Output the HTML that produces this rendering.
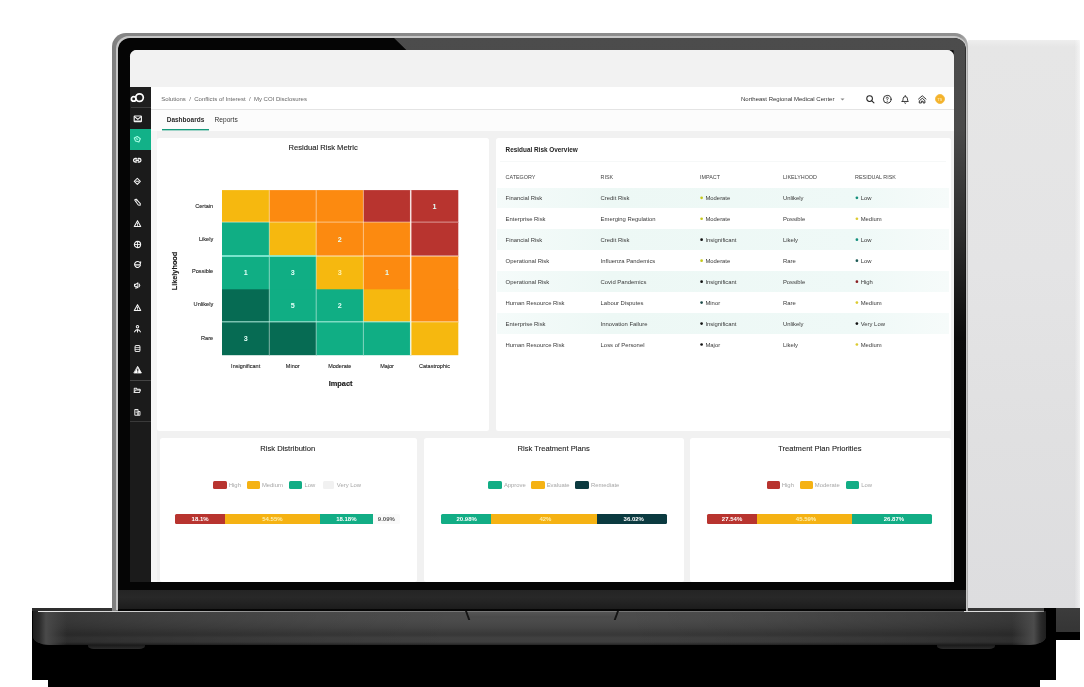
<!DOCTYPE html>
<html>
<head>
<meta charset="utf-8">
<title>Risk Dashboard</title>
<style>
*{box-sizing:border-box;margin:0;padding:0}
html,body{width:1084px;height:687px;overflow:hidden;background:#fff}
body{position:relative;font-family:"Liberation Sans",sans-serif;color:#222}
.a{position:absolute}
.t{position:absolute;white-space:nowrap;line-height:1}
/* ---------- laptop frame ---------- */
#grayrect{left:967.6px;top:39.8px;width:112.6px;height:568.2px;background:linear-gradient(90deg,rgba(255,255,255,0) 0,rgba(255,255,255,0) 95%,rgba(255,255,255,.55) 100%),linear-gradient(#eeeeee 0,#e6e6e6 1.2%,#e4e4e5 40%,#e0e0e1 70%,#dddddf 100%)}
#grayfoot{left:1040px;top:608px;width:40px;height:24px;background:linear-gradient(#3c3c3c,#353535)}
#blackfoot{left:1040px;top:632px;width:40px;height:8px;background:#000}
#topstrip{left:32px;top:608px;width:1012px;height:3px;background:linear-gradient(90deg,#2c2c2c,#333 8%,#333 92%,#404040)}
#blk1{left:32px;top:608px;width:1024px;height:72px;background:#000}
#blk2{left:48px;top:640px;width:992px;height:47px;background:#000}
#lid{left:112.3px;top:32.6px;width:855.4px;height:578px;border-radius:14px 13px 0 0;background:linear-gradient(90deg,#7e7e7e,#858585 1%,#8c8c8c 50%,#909090 99%,#b0b0b0)}
#lid2{left:116.2px;top:36.2px;width:851px;height:574px;border-radius:13px 13px 0 0;background:#c6c6c6}
#bezel{left:117.6px;top:37.6px;width:848px;height:572.4px;border-radius:12px 12px 0 0;background:#050505;overflow:hidden}
#bezelR{left:0;top:0;width:848px;height:572.4px;background:linear-gradient(#4c4c4c 0,#4a4a4a 90px,#2c2c2c 200px,#0c0c0c 300px,#050505 400px);clip-path:polygon(276px 0,848px 0,848px 573px,836px 573px,836px 12.6px,289px 12.6px)}
#chin{left:117.6px;top:590px;width:848px;height:20.5px;background:linear-gradient(#242424,#282828 35%,#1d1d1d 88%,#050505 93%,#050505)}
#base{left:33px;top:611px;width:1013px;height:34px;border-radius:0 0 16px 16px/0 0 9px 9px;background:linear-gradient(#8c8c8c 0,#4d4d4d 1.4px,#4b4b4b 10px,#454545 16px,#3a3a3a 22px,#383838 24px,#414141 27px,#3f3f3f 31px,#2e2e2e 33px,#222 34px)}
#baseShade{left:33px;top:611px;width:1013px;height:34px;border-radius:0 0 16px 16px/0 0 9px 9px;background:linear-gradient(90deg,rgba(0,0,0,.3),rgba(0,0,0,.18) 12%,rgba(0,0,0,.06) 28%,rgba(0,0,0,0) 42%,rgba(0,0,0,0) 58%,rgba(0,0,0,.06) 72%,rgba(0,0,0,.18) 88%,rgba(0,0,0,.3))}
#baseL{left:33px;top:611px;width:34px;height:34px;border-radius:0 0 0 16px/0 0 0 9px;background:linear-gradient(90deg,#1e1e1e,#2a2a2a 18%,#4a4a4a 38%,rgba(64,64,64,0))}
#baseR{left:1012px;top:611px;width:34px;height:34px;border-radius:0 0 16px 0/0 0 9px 0;background:linear-gradient(270deg,#1e1e1e,#2a2a2a 15%,#4c4c4c 36%,rgba(64,64,64,0))}
#notch{left:465px;top:611.5px;width:153px;height:8px;background:linear-gradient(#555,#4b4b4b 60%,rgba(72,72,72,0));clip-path:polygon(0 0,100% 0,calc(100% - 4px) 100%,4px 100%)}
#tickL{left:464.6px;top:611px;width:1.6px;height:8.5px;background:#141414;transform:skewX(20deg);transform-origin:0 0}
#tickR{left:617px;top:611px;width:1.6px;height:8.5px;background:#141414;transform:skewX(-20deg);transform-origin:0 0}
#hl{left:38px;top:610.6px;width:430px;height:1.4px;background:linear-gradient(90deg,#ececec,#d0d0d0 22%,#8c8c8c 50%,rgba(125,125,125,0))}
#hr{left:964px;top:610.6px;width:80px;height:1.4px;background:linear-gradient(90deg,#e0e0e0,#d4d4d4 85%,#888)}
#screen{left:130px;top:50px;width:823.8px;height:532px;border-radius:6.5px 7px 0 0;background:#f1f1f1;overflow:hidden}
#footL{left:88px;top:645px;width:57px;height:3.6px;border-radius:0 0 6px 6px/0 0 3px 3px;background:linear-gradient(#1a1a1a,#2c2c2c)}
#footR{left:937px;top:645px;width:58px;height:3.6px;border-radius:0 0 6px 6px/0 0 3px 3px;background:linear-gradient(#1a1a1a,#2c2c2c)}
</style>
</head>
<body>
<div class="a" id="grayrect"></div>
<div class="a" id="grayfoot"></div>
<div class="a" id="blackfoot"></div>
<div class="a" id="blk1"></div>
<div class="a" id="blk2"></div>
<div class="a" id="topstrip"></div>
<div class="a" id="lid"></div>
<div class="a" id="lid2"></div>
<div class="a" id="bezel"><div class="a" id="bezelR"></div></div>
<div class="a" id="chin"></div>
<div class="a" id="base"></div>
<div class="a" id="baseShade"></div>
<div class="a" id="baseL"></div>
<div class="a" id="baseR"></div>
<div class="a" id="notch"></div>
<div class="a" id="tickL"></div>
<div class="a" id="tickR"></div>
<div class="a" id="footL"></div>
<div class="a" id="footR"></div>
<div class="a" id="hl"></div>
<div class="a" id="hr"></div>
<div class="a" id="screen">
<div class="a" style="left:-130px;top:-50px;width:1084px;height:687px;will-change:transform">
<div class="a" style="left:130.00px;top:50.00px;width:824.00px;height:37.30px;background:#f2f2f2;"></div>
<div class="a" style="left:151.00px;top:87.30px;width:803.00px;height:22.10px;background:#ffffff;"></div>
<div class="a" style="left:151.00px;top:109.20px;width:803.00px;height:0.80px;background:#e4e4e4;"></div>
<div class="a" style="left:151.00px;top:110.00px;width:803.00px;height:20.50px;background:#fcfcfc;"></div>
<div class="a" style="left:151.00px;top:130.50px;width:803.00px;height:451.50px;background:#f1f1f1;"></div>
<div class="a" style="left:130.00px;top:87.30px;width:21.00px;height:494.70px;background:#1b1b1b;"></div>
<div class="a" style="left:130.00px;top:87.30px;width:21.00px;height:20.70px;background:#1f1f1f;"></div>
<div class="a" style="left:131.00px;top:107.00px;width:20.00px;height:0.80px;background:#3d3d3d;"></div>
<div class="a" style="left:130.00px;top:128.70px;width:21.00px;height:21.30px;background:#12b188;"></div>
<div class="a" style="left:130.00px;top:379.70px;width:21.00px;height:0.90px;background:#444;"></div>
<div class="a" style="left:130.00px;top:421.40px;width:21.00px;height:0.80px;background:#3a3a3a;"></div>
<svg class="a" style="left:129px;top:90px" width="17" height="15" viewBox="0 0 17 15" fill="none" stroke="#fff" stroke-width="1.7"><circle cx="4.7" cy="8.9" r="2.3"/><circle cx="10.5" cy="7.6" r="3.8"/></svg>
<svg class="a" style="left:133.00px;top:113.70px" width="9.6" height="9.6" viewBox="0 0 24 24" fill="none" stroke="#f4f4f4" stroke-width="2.9" stroke-linecap="round" stroke-linejoin="round"><rect x="3" y="5" width="18" height="14" rx="1.5"/><path d="M4 6.500l8 7 8-7" /><path d="M5 18h14" stroke-width="4"/></svg>
<svg class="a" style="left:133.40px;top:135.00px" width="8.6" height="8.6" viewBox="0 0 24 24" fill="none" stroke="#a8ffe6" stroke-width="3" stroke-linecap="round" stroke-linejoin="round"><path d="M3.500 8.500l8.500-4.500 8.500 6.500-4 9-9.500-2.500z"/><path d="M9 10.500l4 1.500"/></svg>
<svg class="a" style="left:132.35px;top:155.25px" width="10.5" height="10.5" viewBox="0 0 24 24" fill="none" stroke="#f4f4f4" stroke-width="2.9" stroke-linecap="round" stroke-linejoin="round"><path d="M10 8H7.500a4 4 0 0 0 0 8H10M14 8h2.500a4 4 0 0 1 0 8H14M9 12h6"/></svg>
<svg class="a" style="left:133.20px;top:176.80px" width="8.6" height="8.6" viewBox="0 0 24 24" fill="none" stroke="#f4f4f4" stroke-width="2.9" stroke-linecap="round" stroke-linejoin="round"><path d="M12 3.500l8.500 8.500-8.500 8.500-8.500-8.500z"/><path d="M8.500 12h7"/></svg>
<svg class="a" style="left:133.10px;top:197.90px" width="8.8" height="8.8" viewBox="0 0 24 24" fill="none" stroke="#f4f4f4" stroke-width="2.8" stroke-linecap="round" stroke-linejoin="round"><path d="M4.500 5.500l4-2.500 11.500 12.500-.5 4.500-5-1z"/><path d="M8 9l4-3" stroke-width="2"/></svg>
<svg class="a" style="left:133.00px;top:219.30px" width="9" height="9" viewBox="0 0 24 24" fill="none" stroke="#f4f4f4" stroke-width="2.9" stroke-linecap="round" stroke-linejoin="round"><path d="M12 4.500l8.500 15.500h-17z"/><path d="M12 11v3.500M12 17v.3" stroke-width="2.4"/></svg>
<svg class="a" style="left:133.00px;top:239.70px" width="9" height="9" viewBox="0 0 24 24" fill="none" stroke="#f4f4f4" stroke-width="3" stroke-linecap="round" stroke-linejoin="round"><circle cx="12" cy="12" r="8.300"/><path d="M4 12h16M12 4v16" stroke-width="2.4"/></svg>
<svg class="a" style="left:133.00px;top:260.20px" width="9" height="9" viewBox="0 0 24 24" fill="none" stroke="#f4f4f4" stroke-width="2.9" stroke-linecap="round" stroke-linejoin="round"><path d="M19 7.500a8 8 0 1 0 .8 7"/><path d="M5.500 13h13.500l1.500-8"/></svg>
<svg class="a" style="left:133.00px;top:281.20px" width="9" height="9" viewBox="0 0 24 24" fill="none" stroke="#f4f4f4" stroke-width="2.8" stroke-linecap="round" stroke-linejoin="round"><path d="M4 9v5h3l6 4V5L7 9z"/><path d="M16.500 8c2 2 2 5 0 7M8 15.500v4.500"/></svg>
<svg class="a" style="left:133.00px;top:303.10px" width="9" height="9" viewBox="0 0 24 24" fill="none" stroke="#f4f4f4" stroke-width="2.9" stroke-linecap="round" stroke-linejoin="round"><path d="M12 4.500l8.500 15.500h-17z"/><path d="M12 11v3.500M12 17v.3" stroke-width="2.4"/></svg>
<svg class="a" style="left:133.00px;top:323.50px" width="9" height="9" viewBox="0 0 24 24" fill="none" stroke="#f4f4f4" stroke-width="2.8" stroke-linecap="round" stroke-linejoin="round"><circle cx="12" cy="7.500" r="3.300"/><path d="M4 21c2-4 4.500-6 8-6s6 2 8 6M12 15v6" /></svg>
<svg class="a" style="left:133.00px;top:344.10px" width="9" height="9" viewBox="0 0 24 24" fill="none" stroke="#e2e2e2" stroke-width="2.8" stroke-linecap="round" stroke-linejoin="round"><rect x="5.500" y="4" width="13" height="16" rx="3"/><path d="M6 9.500h12M6 14.500h12" stroke-width="2.2"/></svg>
<svg class="a" style="left:132.70px;top:365.10px" width="9.6" height="9.6" viewBox="0 0 24 24" fill="none" stroke="#fff" stroke-width="2" stroke-linecap="round" stroke-linejoin="round"><path d="M12 4l9 16H3z" fill="#fff"/><path d="M12 10v4.500M12 17.400v.3" stroke="#1b1b1b" stroke-width="2.6"/></svg>
<svg class="a" style="left:133.20px;top:386.30px" width="8.6" height="8.6" viewBox="0 0 24 24" fill="none" stroke="#e6e6e6" stroke-width="2.8" stroke-linecap="round" stroke-linejoin="round"><path d="M3.500 18V6h6l2 3h8v3"/><path d="M3.500 18l3-6.500h14.500l-3 6.500z"/></svg>
<svg class="a" style="left:133.20px;top:407.70px" width="8.6" height="8.6" viewBox="0 0 24 24" fill="none" stroke="#e6e6e6" stroke-width="2.8" stroke-linecap="round" stroke-linejoin="round"><rect x="5" y="4" width="9" height="16" rx="1"/><rect x="14" y="10" width="5.500" height="10" rx="1"/><path d="M8 8.500h3M8 13h3" stroke-width="2"/></svg>
<div class="t" style="left:161.20px;top:96px;font-size:6.0px;font-weight:400;color:#666;">Solutions&nbsp; /&nbsp; Conflicts of Interest&nbsp; /&nbsp; My COI Disclosures</div>
<div class="t" style="left:741.00px;top:96px;font-size:6.0px;font-weight:400;color:#333;">Northeast Regional Medical Center</div>
<svg class="a" style="left:839.5px;top:98px" width="5" height="3.2" viewBox="0 0 10 6"><path d="M1 1l4 4 4-4z" fill="#888"/></svg>
<svg class="a" style="left:864.95px;top:94.05px" width="10.5" height="10.5" viewBox="0 0 24 24" fill="none" stroke="#222" stroke-width="2.3" stroke-linecap="round" stroke-linejoin="round"><circle cx="10.5" cy="10.5" r="6.5"/><path d="M15.5 15.5l5 5"/></svg>
<svg class="a" style="left:882.25px;top:94.05px" width="10.5" height="10.5" viewBox="0 0 24 24" fill="none" stroke="#222" stroke-width="2.1" stroke-linecap="round" stroke-linejoin="round"><circle cx="12" cy="12" r="8.8"/><path d="M9.8 9.5a2.3 2.3 0 1 1 3.2 2.2c-.7.4-1 .8-1 1.8M12 16.8v.2" stroke-width="1.9"/></svg>
<svg class="a" style="left:900.15px;top:94.05px" width="10.5" height="10.5" viewBox="0 0 24 24" fill="none" stroke="#222" stroke-width="2.1" stroke-linecap="round" stroke-linejoin="round"><path d="M5 17h14c-1.5-1.5-2-3-2-6a5 5 0 0 0-10 0c0 3-.5 4.500-2 6z"/><path d="M10.300 20.500a2 2 0 0 0 3.400 0M12 3.500v1.500"/></svg>
<svg class="a" style="left:917.05px;top:94.05px" width="10.5" height="10.5" viewBox="0 0 24 24" fill="none" stroke="#222" stroke-width="2.1" stroke-linecap="round" stroke-linejoin="round"><path d="M3.500 11.500L12 4l8.500 7.500"/><path d="M6 15l6-5.200 6 5.200v5.500h-4v-4h-4v4H6z"/></svg>
<div class="a" style="left:934.6px;top:94.1px;width:10.4px;height:10.4px;border-radius:50%;background:#f4b22a;border:0.8px solid #f6c04d"></div>
<div class="t" style="left:939.80px;top:99px;font-size:3.6px;font-weight:700;color:#fbe3a8;transform:translateX(-50%);">TS</div>
<div class="t" style="left:166.70px;top:117px;font-size:6.5px;font-weight:700;color:#2a2a2a;">Dashboards</div>
<div class="t" style="left:214.60px;top:117px;font-size:6.6px;font-weight:400;color:#333;">Reports</div>
<div class="a" style="left:161.70px;top:129.00px;width:47.60px;height:1.00px;background:#17997b;box-shadow:0 1px 0 rgba(23,153,123,.4);"></div>
<div class="a" style="left:156.90px;top:137.50px;width:332.30px;height:293.90px;background:#ffffff;border-radius:2.5px;"></div>
<div class="a" style="left:495.60px;top:137.60px;width:455.00px;height:293.80px;background:#ffffff;border-radius:2.5px;"></div>
<div class="a" style="left:159.80px;top:437.90px;width:257.60px;height:144.10px;background:#ffffff;border-radius:2.5px;"></div>
<div class="a" style="left:424.00px;top:437.90px;width:259.70px;height:144.10px;background:#ffffff;border-radius:2.5px;"></div>
<div class="a" style="left:689.80px;top:437.90px;width:260.90px;height:144.10px;background:#ffffff;border-radius:2.5px;"></div>
<div class="a" style="left:151.00px;top:130.50px;width:5.90px;height:451.50px;background:#f6f6f6;"></div>
<svg class="a" style="left:0;top:0" width="1084" height="687" viewBox="0 0 1084 687"><rect x="222.0" y="190.1" width="48.00" height="32.70" fill="#f6b80f"/><rect x="269.3" y="190.1" width="47.60" height="32.70" fill="#fc8a10"/><rect x="316.2" y="190.1" width="47.90" height="32.70" fill="#fc8a10"/><rect x="363.4" y="190.1" width="48.00" height="32.70" fill="#b8342f"/><rect x="410.7" y="190.1" width="47.60" height="32.70" fill="#b8342f"/><rect x="222.0" y="222.1" width="48.00" height="34.60" fill="#10ae84"/><rect x="269.3" y="222.1" width="47.60" height="34.60" fill="#f6b80f"/><rect x="316.2" y="222.1" width="47.90" height="34.60" fill="#fc8a10"/><rect x="363.4" y="222.1" width="48.00" height="34.60" fill="#fc8a10"/><rect x="410.7" y="222.1" width="47.60" height="34.60" fill="#b8342f"/><rect x="222.0" y="256.0" width="48.00" height="34.00" fill="#10ae84"/><rect x="269.3" y="256.0" width="47.60" height="34.00" fill="#10ae84"/><rect x="316.2" y="256.0" width="47.90" height="34.00" fill="#f6b80f"/><rect x="363.4" y="256.0" width="48.00" height="34.00" fill="#fc8a10"/><rect x="410.7" y="256.0" width="47.60" height="34.00" fill="#fc8a10"/><rect x="222.0" y="289.3" width="48.00" height="33.20" fill="#066b53"/><rect x="269.3" y="289.3" width="47.60" height="33.20" fill="#10ae84"/><rect x="316.2" y="289.3" width="47.90" height="33.20" fill="#10ae84"/><rect x="363.4" y="289.3" width="48.00" height="33.20" fill="#f6b80f"/><rect x="410.7" y="289.3" width="47.60" height="33.20" fill="#fc8a10"/><rect x="222.0" y="321.8" width="48.00" height="33.40" fill="#066b53"/><rect x="269.3" y="321.8" width="47.60" height="33.40" fill="#066b53"/><rect x="316.2" y="321.8" width="47.90" height="33.40" fill="#10ae84"/><rect x="363.4" y="321.8" width="48.00" height="33.40" fill="#10ae84"/><rect x="410.7" y="321.8" width="47.60" height="33.40" fill="#f6b80f"/><line x1="269.3" y1="190.1" x2="269.3" y2="355.2" stroke="rgba(255,255,255,0.55)" stroke-width="0.9"/><line x1="316.2" y1="190.1" x2="316.2" y2="355.2" stroke="rgba(255,255,255,0.55)" stroke-width="0.9"/><line x1="363.4" y1="190.1" x2="363.4" y2="355.2" stroke="rgba(255,255,255,0.55)" stroke-width="0.9"/><line x1="410.7" y1="190.1" x2="410.7" y2="355.2" stroke="rgba(255,255,255,0.85)" stroke-width="1.5"/><line x1="222.0" y1="222.1" x2="458.3" y2="222.1" stroke="rgba(255,255,255,0.55)" stroke-width="0.9"/><line x1="222.0" y1="256.0" x2="458.3" y2="256.0" stroke="rgba(255,255,255,0.75)" stroke-width="1.2"/><line x1="222.0" y1="256.0" x2="316.2" y2="256.0" stroke="#7fecd4" stroke-width="1.3"/><line x1="222.0" y1="321.8" x2="458.3" y2="321.8" stroke="rgba(255,255,255,0.6)" stroke-width="1.0"/><line x1="222.0" y1="321.8" x2="410.7" y2="321.8" stroke="rgba(150,245,220,0.5)" stroke-width="1.0"/></svg>
<div class="t" style="left:434.50px;top:203px;font-size:7.2px;font-weight:700;color:#e2fff7;transform:translateX(-50%);">1</div>
<div class="t" style="left:339.80px;top:236px;font-size:7.2px;font-weight:700;color:#e2fff7;transform:translateX(-50%);">2</div>
<div class="t" style="left:245.65px;top:269px;font-size:7.2px;font-weight:700;color:#e2fff7;transform:translateX(-50%);">1</div>
<div class="t" style="left:292.75px;top:269px;font-size:7.2px;font-weight:700;color:#e2fff7;transform:translateX(-50%);">3</div>
<div class="t" style="left:339.80px;top:269px;font-size:7.2px;font-weight:700;color:#fff3b0;transform:translateX(-50%);">3</div>
<div class="t" style="left:387.05px;top:269px;font-size:7.2px;font-weight:700;color:#e2fff7;transform:translateX(-50%);">1</div>
<div class="t" style="left:292.75px;top:302px;font-size:7.2px;font-weight:700;color:#e2fff7;transform:translateX(-50%);">5</div>
<div class="t" style="left:339.80px;top:302px;font-size:7.2px;font-weight:700;color:#e2fff7;transform:translateX(-50%);">2</div>
<div class="t" style="left:245.65px;top:335px;font-size:7.2px;font-weight:700;color:#e2fff7;transform:translateX(-50%);">3</div>
<div class="t" style="left:213.20px;top:204px;font-size:5.6px;font-weight:400;color:#222;transform:translateX(-100%);-webkit-text-stroke:0.1px currentColor;">Certain</div>
<div class="t" style="left:213.20px;top:237px;font-size:5.6px;font-weight:400;color:#222;transform:translateX(-100%);-webkit-text-stroke:0.1px currentColor;">Likely</div>
<div class="t" style="left:213.20px;top:269px;font-size:5.6px;font-weight:400;color:#222;transform:translateX(-100%);-webkit-text-stroke:0.1px currentColor;">Possible</div>
<div class="t" style="left:213.20px;top:302px;font-size:5.6px;font-weight:400;color:#222;transform:translateX(-100%);-webkit-text-stroke:0.1px currentColor;">Unlikely</div>
<div class="t" style="left:213.20px;top:336px;font-size:5.6px;font-weight:400;color:#222;transform:translateX(-100%);-webkit-text-stroke:0.1px currentColor;">Rare</div>
<div class="t" style="left:245.65px;top:364px;font-size:5.5px;font-weight:400;color:#222;transform:translateX(-50%);-webkit-text-stroke:0.1px currentColor;">Insignificant</div>
<div class="t" style="left:292.75px;top:364px;font-size:5.5px;font-weight:400;color:#222;transform:translateX(-50%);-webkit-text-stroke:0.1px currentColor;">Minor</div>
<div class="t" style="left:339.80px;top:364px;font-size:5.5px;font-weight:400;color:#222;transform:translateX(-50%);-webkit-text-stroke:0.1px currentColor;">Moderate</div>
<div class="t" style="left:387.05px;top:364px;font-size:5.5px;font-weight:400;color:#222;transform:translateX(-50%);-webkit-text-stroke:0.1px currentColor;">Major</div>
<div class="t" style="left:434.50px;top:364px;font-size:5.5px;font-weight:400;color:#222;transform:translateX(-50%);-webkit-text-stroke:0.1px currentColor;">Catastrophic</div>
<div class="t" style="left:340.60px;top:380px;font-size:7.4px;font-weight:700;color:#1a1a1a;transform:translateX(-50%);-webkit-text-stroke:0.15px #1a1a1a;">Impact</div>
<div class="t" style="left:175.3px;top:270.5px;font-size:7.3px;font-weight:700;color:#1a1a1a;-webkit-text-stroke:0.15px #1a1a1a;transform:translate(-50%,-50%) rotate(-90deg)">Likelyhood</div>
<div class="t" style="left:323.20px;top:144px;font-size:7.6px;font-weight:400;color:#222;transform:translateX(-50%);-webkit-text-stroke:0.12px #222;">Residual Risk Metric</div>
<div class="t" style="left:505.60px;top:147px;font-size:6.4px;font-weight:700;color:#222;">Residual Risk Overview</div>
<div class="a" style="left:500.00px;top:161.40px;width:446.00px;height:0.60px;background:#f6f8f8;"></div>
<div class="t" style="left:505.60px;top:175px;font-size:5.4px;font-weight:400;color:#444;">CATEGORY</div>
<div class="t" style="left:600.60px;top:175px;font-size:5.4px;font-weight:400;color:#444;">RISK</div>
<div class="t" style="left:700.00px;top:175px;font-size:5.4px;font-weight:400;color:#444;">IMPACT</div>
<div class="t" style="left:782.90px;top:175px;font-size:5.4px;font-weight:400;color:#444;">LIKELYHOOD</div>
<div class="t" style="left:855.10px;top:175px;font-size:5.4px;font-weight:400;color:#444;">RESIDUAL RISK</div>
<div class="a" style="left:497.00px;top:187.50px;width:452.00px;height:20.40px;background:linear-gradient(90deg,#f5fbfa,#edf8f5 25%,#eff9f7 80%,#f6fbfa);"></div>
<div class="t" style="left:505.60px;top:196px;font-size:5.9px;font-weight:400;color:#3a3a3a;">Financial Risk</div>
<div class="t" style="left:600.60px;top:196px;font-size:5.9px;font-weight:400;color:#3a3a3a;">Credit Risk</div>
<div class="t" style="left:705.40px;top:196px;font-size:5.9px;font-weight:400;color:#3a3a3a;">Moderate</div>
<div class="t" style="left:782.90px;top:196px;font-size:5.9px;font-weight:400;color:#3a3a3a;">Unlikely</div>
<div class="t" style="left:860.70px;top:196px;font-size:5.9px;font-weight:400;color:#3a3a3a;">Low</div>
<div class="t" style="left:505.60px;top:217px;font-size:5.9px;font-weight:400;color:#3a3a3a;">Enterprise Risk</div>
<div class="t" style="left:600.60px;top:217px;font-size:5.9px;font-weight:400;color:#3a3a3a;">Emerging Regulation</div>
<div class="t" style="left:705.40px;top:217px;font-size:5.9px;font-weight:400;color:#3a3a3a;">Moderate</div>
<div class="t" style="left:782.90px;top:217px;font-size:5.9px;font-weight:400;color:#3a3a3a;">Possible</div>
<div class="t" style="left:860.70px;top:217px;font-size:5.9px;font-weight:400;color:#3a3a3a;">Medium</div>
<div class="a" style="left:497.00px;top:229.42px;width:452.00px;height:20.40px;background:linear-gradient(90deg,#f5fbfa,#edf8f5 25%,#eff9f7 80%,#f6fbfa);"></div>
<div class="t" style="left:505.60px;top:238px;font-size:5.9px;font-weight:400;color:#3a3a3a;">Financial Risk</div>
<div class="t" style="left:600.60px;top:238px;font-size:5.9px;font-weight:400;color:#3a3a3a;">Credit Risk</div>
<div class="t" style="left:705.40px;top:238px;font-size:5.9px;font-weight:400;color:#3a3a3a;">Insignificant</div>
<div class="t" style="left:782.90px;top:238px;font-size:5.9px;font-weight:400;color:#3a3a3a;">Likely</div>
<div class="t" style="left:860.70px;top:238px;font-size:5.9px;font-weight:400;color:#3a3a3a;">Low</div>
<div class="t" style="left:505.60px;top:259px;font-size:5.9px;font-weight:400;color:#3a3a3a;">Operational Risk</div>
<div class="t" style="left:600.60px;top:259px;font-size:5.9px;font-weight:400;color:#3a3a3a;">Influenza Pandemics</div>
<div class="t" style="left:705.40px;top:259px;font-size:5.9px;font-weight:400;color:#3a3a3a;">Moderate</div>
<div class="t" style="left:782.90px;top:259px;font-size:5.9px;font-weight:400;color:#3a3a3a;">Rare</div>
<div class="t" style="left:860.70px;top:259px;font-size:5.9px;font-weight:400;color:#3a3a3a;">Low</div>
<div class="a" style="left:497.00px;top:271.34px;width:452.00px;height:20.40px;background:linear-gradient(90deg,#f5fbfa,#edf8f5 25%,#eff9f7 80%,#f6fbfa);"></div>
<div class="t" style="left:505.60px;top:280px;font-size:5.9px;font-weight:400;color:#3a3a3a;">Operational Risk</div>
<div class="t" style="left:600.60px;top:280px;font-size:5.9px;font-weight:400;color:#3a3a3a;">Covid Pandemics</div>
<div class="t" style="left:705.40px;top:280px;font-size:5.9px;font-weight:400;color:#3a3a3a;">Insignificant</div>
<div class="t" style="left:782.90px;top:280px;font-size:5.9px;font-weight:400;color:#3a3a3a;">Possible</div>
<div class="t" style="left:860.70px;top:280px;font-size:5.9px;font-weight:400;color:#3a3a3a;">High</div>
<div class="t" style="left:505.60px;top:301px;font-size:5.9px;font-weight:400;color:#3a3a3a;">Human Resource Risk</div>
<div class="t" style="left:600.60px;top:301px;font-size:5.9px;font-weight:400;color:#3a3a3a;">Labour Disputes</div>
<div class="t" style="left:705.40px;top:301px;font-size:5.9px;font-weight:400;color:#3a3a3a;">Minor</div>
<div class="t" style="left:782.90px;top:301px;font-size:5.9px;font-weight:400;color:#3a3a3a;">Rare</div>
<div class="t" style="left:860.70px;top:301px;font-size:5.9px;font-weight:400;color:#3a3a3a;">Medium</div>
<div class="a" style="left:497.00px;top:313.26px;width:452.00px;height:20.40px;background:linear-gradient(90deg,#f5fbfa,#edf8f5 25%,#eff9f7 80%,#f6fbfa);"></div>
<div class="t" style="left:505.60px;top:322px;font-size:5.9px;font-weight:400;color:#3a3a3a;">Enterprise Risk</div>
<div class="t" style="left:600.60px;top:322px;font-size:5.9px;font-weight:400;color:#3a3a3a;">Innovation Failure</div>
<div class="t" style="left:705.40px;top:322px;font-size:5.9px;font-weight:400;color:#3a3a3a;">Insignificant</div>
<div class="t" style="left:782.90px;top:322px;font-size:5.9px;font-weight:400;color:#3a3a3a;">Unlikely</div>
<div class="t" style="left:860.70px;top:322px;font-size:5.9px;font-weight:400;color:#3a3a3a;">Very Low</div>
<div class="t" style="left:505.60px;top:343px;font-size:5.9px;font-weight:400;color:#3a3a3a;">Human Resource Risk</div>
<div class="t" style="left:600.60px;top:343px;font-size:5.9px;font-weight:400;color:#3a3a3a;">Loss of Personel</div>
<div class="t" style="left:705.40px;top:343px;font-size:5.9px;font-weight:400;color:#3a3a3a;">Major</div>
<div class="t" style="left:782.90px;top:343px;font-size:5.9px;font-weight:400;color:#3a3a3a;">Likely</div>
<div class="t" style="left:860.70px;top:343px;font-size:5.9px;font-weight:400;color:#3a3a3a;">Medium</div>
<svg class="a" style="left:0;top:0" width="1084" height="687" viewBox="0 0 1084 687"><circle cx="701.60" cy="197.80" r="1.35" fill="#c4c81a"/><circle cx="856.90" cy="197.80" r="1.35" fill="#148f7c"/><circle cx="701.60" cy="218.76" r="1.35" fill="#c4c81a"/><circle cx="856.90" cy="218.76" r="1.35" fill="#dccb30"/><circle cx="701.60" cy="239.72" r="1.35" fill="#111"/><circle cx="856.90" cy="239.72" r="1.35" fill="#148f7c"/><circle cx="701.60" cy="260.68" r="1.35" fill="#c4c81a"/><circle cx="856.90" cy="260.68" r="1.35" fill="#1d5a55"/><circle cx="701.60" cy="281.64" r="1.35" fill="#111"/><circle cx="856.90" cy="281.64" r="1.35" fill="#8a1f22"/><circle cx="701.60" cy="302.60" r="1.35" fill="#1d4a48"/><circle cx="856.90" cy="302.60" r="1.35" fill="#dccb30"/><circle cx="701.60" cy="323.56" r="1.35" fill="#111"/><circle cx="856.90" cy="323.56" r="1.35" fill="#111"/><circle cx="701.60" cy="344.52" r="1.35" fill="#111"/><circle cx="856.90" cy="344.52" r="1.35" fill="#dccb30"/></svg>
<div class="t" style="left:287.70px;top:445px;font-size:7.6px;font-weight:400;color:#222;transform:translateX(-50%);-webkit-text-stroke:0.1px #222;">Risk Distribution</div>
<div class="a" style="left:213.30px;top:480.90px;width:13.40px;height:8.10px;background:#b8342f;border-radius:1.5px;"></div>
<div class="t" style="left:228.80px;top:483px;font-size:5.9px;font-weight:400;color:#a6a6a6;">High</div>
<div class="a" style="left:246.60px;top:480.90px;width:13.20px;height:8.10px;background:#f5b213;border-radius:1.5px;"></div>
<div class="t" style="left:261.90px;top:483px;font-size:5.9px;font-weight:400;color:#a6a6a6;">Medium</div>
<div class="a" style="left:289.00px;top:480.90px;width:13.40px;height:8.10px;background:#12ad85;border-radius:1.5px;"></div>
<div class="t" style="left:304.50px;top:483px;font-size:5.9px;font-weight:400;color:#a6a6a6;">Low</div>
<div class="a" style="left:322.60px;top:480.90px;width:11.60px;height:8.10px;background:#f1f1f1;border-radius:1.5px;"></div>
<div class="t" style="left:336.80px;top:483px;font-size:5.9px;font-weight:400;color:#a6a6a6;">Very Low</div>
<div class="a" style="left:175.30px;top:514.10px;width:49.60px;height:9.80px;background:#b8342f;border-radius:1.5px 0 0 1.5px;"></div>
<div class="t" style="left:200.10px;top:516px;font-size:6.0px;font-weight:700;color:#fff;transform:translateX(-50%);">18.1%</div>
<div class="a" style="left:224.90px;top:514.10px;width:95.10px;height:9.80px;background:#f5b213;"></div>
<div class="t" style="left:272.45px;top:516px;font-size:6.0px;font-weight:700;color:#fdf0b0;transform:translateX(-50%);">54.55%</div>
<div class="a" style="left:320.00px;top:514.10px;width:52.70px;height:9.80px;background:#12ad85;"></div>
<div class="t" style="left:346.35px;top:516px;font-size:6.0px;font-weight:700;color:#fff;transform:translateX(-50%);">18.18%</div>
<div class="a" style="left:372.70px;top:514.10px;width:27.30px;height:9.80px;background:#fafafa;border-radius:0 1.5px 1.5px 0;"></div>
<div class="t" style="left:386.35px;top:516px;font-size:6.0px;font-weight:700;color:#555;transform:translateX(-50%);">9.09%</div>
<div class="t" style="left:553.70px;top:445px;font-size:7.6px;font-weight:400;color:#222;transform:translateX(-50%);-webkit-text-stroke:0.1px #222;">Risk Treatment Plans</div>
<div class="a" style="left:488.40px;top:480.90px;width:13.40px;height:8.10px;background:#12ad85;border-radius:1.5px;"></div>
<div class="t" style="left:503.90px;top:483px;font-size:5.9px;font-weight:400;color:#a6a6a6;">Approve</div>
<div class="a" style="left:531.20px;top:480.90px;width:13.50px;height:8.10px;background:#f5b213;border-radius:1.5px;"></div>
<div class="t" style="left:546.70px;top:483px;font-size:5.9px;font-weight:400;color:#a6a6a6;">Evaluate</div>
<div class="a" style="left:575.40px;top:480.90px;width:13.20px;height:8.10px;background:#0b3a40;border-radius:1.5px;"></div>
<div class="t" style="left:590.90px;top:483px;font-size:5.9px;font-weight:400;color:#a6a6a6;">Remediate</div>
<div class="a" style="left:440.80px;top:514.10px;width:50.20px;height:9.80px;background:#12ad85;border-radius:1.5px 0 0 1.5px;"></div>
<div class="t" style="left:466.70px;top:516px;font-size:6.0px;font-weight:700;color:#fff;transform:translateX(-50%);">20.98%</div>
<div class="a" style="left:491.00px;top:514.10px;width:106.10px;height:9.80px;background:#f5b213;"></div>
<div class="t" style="left:545.45px;top:516px;font-size:6.0px;font-weight:700;color:#fdf0b0;transform:translateX(-50%);">42%</div>
<div class="a" style="left:597.10px;top:514.10px;width:69.50px;height:9.80px;background:#0b3a40;border-radius:0 1.5px 1.5px 0;"></div>
<div class="t" style="left:633.75px;top:516px;font-size:6.0px;font-weight:700;color:#fff;transform:translateX(-50%);">36.02%</div>
<div class="t" style="left:819.80px;top:445px;font-size:7.6px;font-weight:400;color:#222;transform:translateX(-50%);-webkit-text-stroke:0.1px #222;">Treatment Plan Priorities</div>
<div class="a" style="left:766.50px;top:480.90px;width:13.20px;height:8.10px;background:#b8342f;border-radius:1.5px;"></div>
<div class="t" style="left:781.80px;top:483px;font-size:5.9px;font-weight:400;color:#a6a6a6;">High</div>
<div class="a" style="left:799.60px;top:480.90px;width:13.20px;height:8.10px;background:#f5b213;border-radius:1.5px;"></div>
<div class="t" style="left:814.80px;top:483px;font-size:5.9px;font-weight:400;color:#a6a6a6;">Moderate</div>
<div class="a" style="left:846.10px;top:480.90px;width:12.90px;height:8.10px;background:#12ad85;border-radius:1.5px;"></div>
<div class="t" style="left:861.30px;top:483px;font-size:5.9px;font-weight:400;color:#a6a6a6;">Low</div>
<div class="a" style="left:707.10px;top:514.10px;width:49.90px;height:9.80px;background:#b8342f;border-radius:1.5px 0 0 1.5px;"></div>
<div class="t" style="left:732.05px;top:516px;font-size:6.0px;font-weight:700;color:#fff;transform:translateX(-50%);">27.54%</div>
<div class="a" style="left:757.00px;top:514.10px;width:95.00px;height:9.80px;background:#f5b213;"></div>
<div class="t" style="left:806.00px;top:516px;font-size:6.0px;font-weight:700;color:#fdf0b0;transform:translateX(-50%);">45.59%</div>
<div class="a" style="left:852.00px;top:514.10px;width:80.40px;height:9.80px;background:#12ad85;border-radius:0 1.5px 1.5px 0;"></div>
<div class="t" style="left:893.90px;top:516px;font-size:6.0px;font-weight:700;color:#fff;transform:translateX(-50%);">26.87%</div>
</div>
</div>
</body>
</html>
